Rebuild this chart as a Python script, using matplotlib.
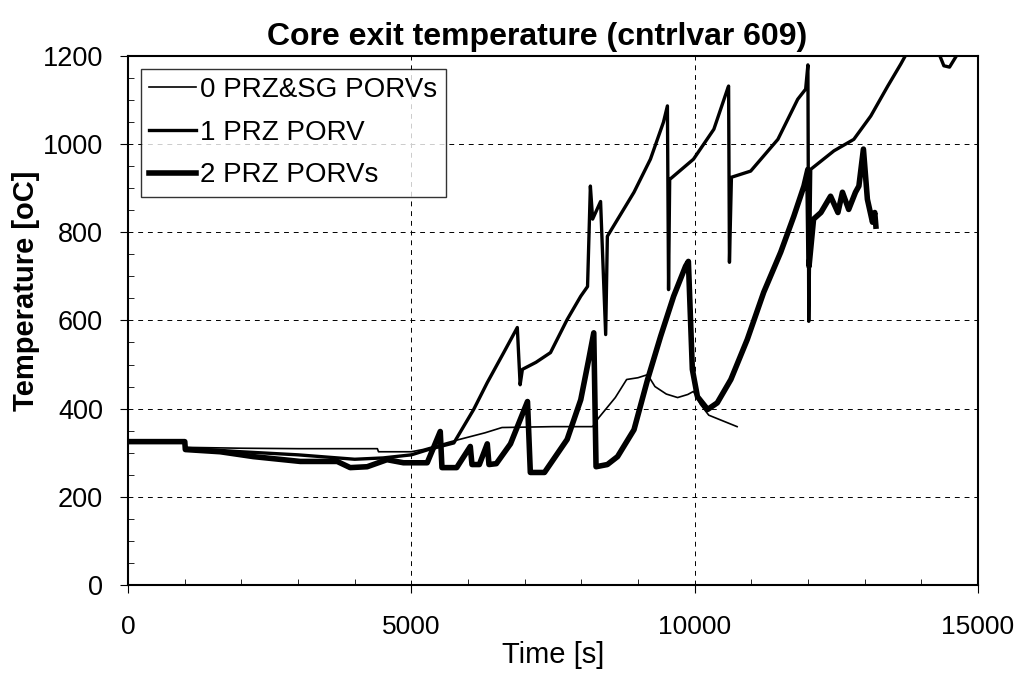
import matplotlib.pyplot as plt

plt.rcParams['font.family'] = ['Liberation Sans', 'DejaVu Sans']

# 0 PRZ&SG PORVs (thin)
t0 = [0, 1000, 1010, 2000, 3000, 4400, 4420, 5000, 5200, 5700, 6300, 6600, 7500, 8200,
      8300, 8600, 8800, 9000, 9170, 9300, 9500, 9700, 9880, 9980, 10100, 10250, 10500, 10750]
y0 = [325, 325, 312, 310, 309, 309, 302, 302, 307, 325, 345, 357, 359, 359,
      378, 425, 466, 470, 477, 450, 433, 425, 432, 439, 410, 385, 372, 359]

# 1 PRZ PORV (medium)
t1 = [0, 1000, 1010, 2000, 3000, 4000, 4500, 5000, 5300, 5750, 6100, 6340, 6630, 6870,
      6920, 6960, 7200, 7456, 7750, 7990, 8110, 8160, 8200, 8340, 8430, 8460, 8930,
      9220, 9450, 9520, 9540, 9560, 9980, 10340, 10580, 10600, 10615, 10650,
      10990, 11470, 11820, 11960, 12000, 12015, 12050, 12460, 12810, 13110,
      13410, 13640, 13760, 14300, 14400, 14500, 14610]
y1 = [325, 325, 310, 302, 295, 285, 288, 295, 307, 322, 398, 459, 527, 584,
      454, 489, 505, 527, 602, 655, 677, 905, 830, 870, 568, 791, 891,
      966, 1050, 1087, 670, 920, 966, 1034, 1125, 1132, 732, 925,
      939, 1011, 1102, 1125, 1180, 598, 943, 985, 1011, 1064,
      1132, 1182, 1210, 1210, 1178, 1175, 1198]

# 2 PRZ PORVs (thick)
t2 = [0, 1000, 1010, 1625, 2210, 3040, 3690, 3920, 4220, 4570, 4860, 5280, 5510, 5540,
      5800, 6040, 6070, 6200, 6340, 6370, 6500, 6750, 7050, 7100, 7350, 7750, 7990,
      8130, 8220, 8260, 8460, 8640, 8930, 9170, 9400, 9630, 9840, 9890, 9960, 10050,
      10230, 10400, 10640, 10930, 11220, 11520, 11750, 11930, 12000, 12020, 12100,
      12230, 12400, 12530, 12610, 12720, 12840, 12900, 12980, 13050, 13140, 13180, 13200]
y2 = [325, 325, 307, 302, 291, 280, 280, 266, 268, 284, 277, 277, 348, 266,
      266, 314, 273, 273, 320, 273, 275, 320, 416, 255, 255, 330, 420,
      511, 572, 268, 273, 291, 352, 466, 564, 655, 723, 734, 489, 427,
      398, 413, 466, 557, 664, 755, 836, 905, 943, 723, 830,
      845, 882, 845, 891, 852, 891, 905, 989, 875, 823, 845, 814]

fig = plt.figure(figsize=(10.25, 6.84), dpi=100)
ax = fig.add_axes([0.125, 0.145, 0.829, 0.773])

ax.plot(t0, y0, color='black', linewidth=1.2, label='0 PRZ&SG PORVs')
ax.plot(t1, y1, color='black', linewidth=2.4, label='1 PRZ PORV')
ax.plot(t2, y2, color='black', linewidth=4.0, label='2 PRZ PORVs')

ax.set_xlim(0, 15000)
ax.set_ylim(0, 1200)
ax.set_xticks([0, 5000, 10000, 15000])
ax.set_xticks(range(0, 15001, 1000), minor=True)
ax.set_yticks(range(0, 1201, 200))
ax.set_yticks(range(0, 1201, 50), minor=True)
ax.tick_params(axis='y', labelsize=19.5, length=6, pad=12)
ax.tick_params(axis='x', labelsize=19, length=6, pad=16)
ax.tick_params(axis='both', which='minor', direction='in', length=4)
ax.grid(True, color='black', linestyle=(0, (5, 5)), linewidth=0.7)
for s in ax.spines.values():
    s.set_linewidth(1.5)

ax.set_title('Core exit temperature (cntrlvar 609)', fontsize=23, fontweight='bold',
             x=0.481, pad=8)
ax.set_xlabel('Time [s]', fontsize=21, labelpad=1)
ax.set_ylabel('Temperature [oC]', fontsize=21, fontweight='bold')
ax.yaxis.set_label_coords(-0.104, 0.556)

leg = ax.legend(loc='upper left', fontsize=20, fancybox=False, edgecolor='black',
                handlelength=1.7, handletextpad=0.15, borderaxespad=0.45,
                labelspacing=0.6, borderpad=0.3)
leg.get_frame().set_linewidth(1.0)

plt.savefig('out.png', dpi=100)
